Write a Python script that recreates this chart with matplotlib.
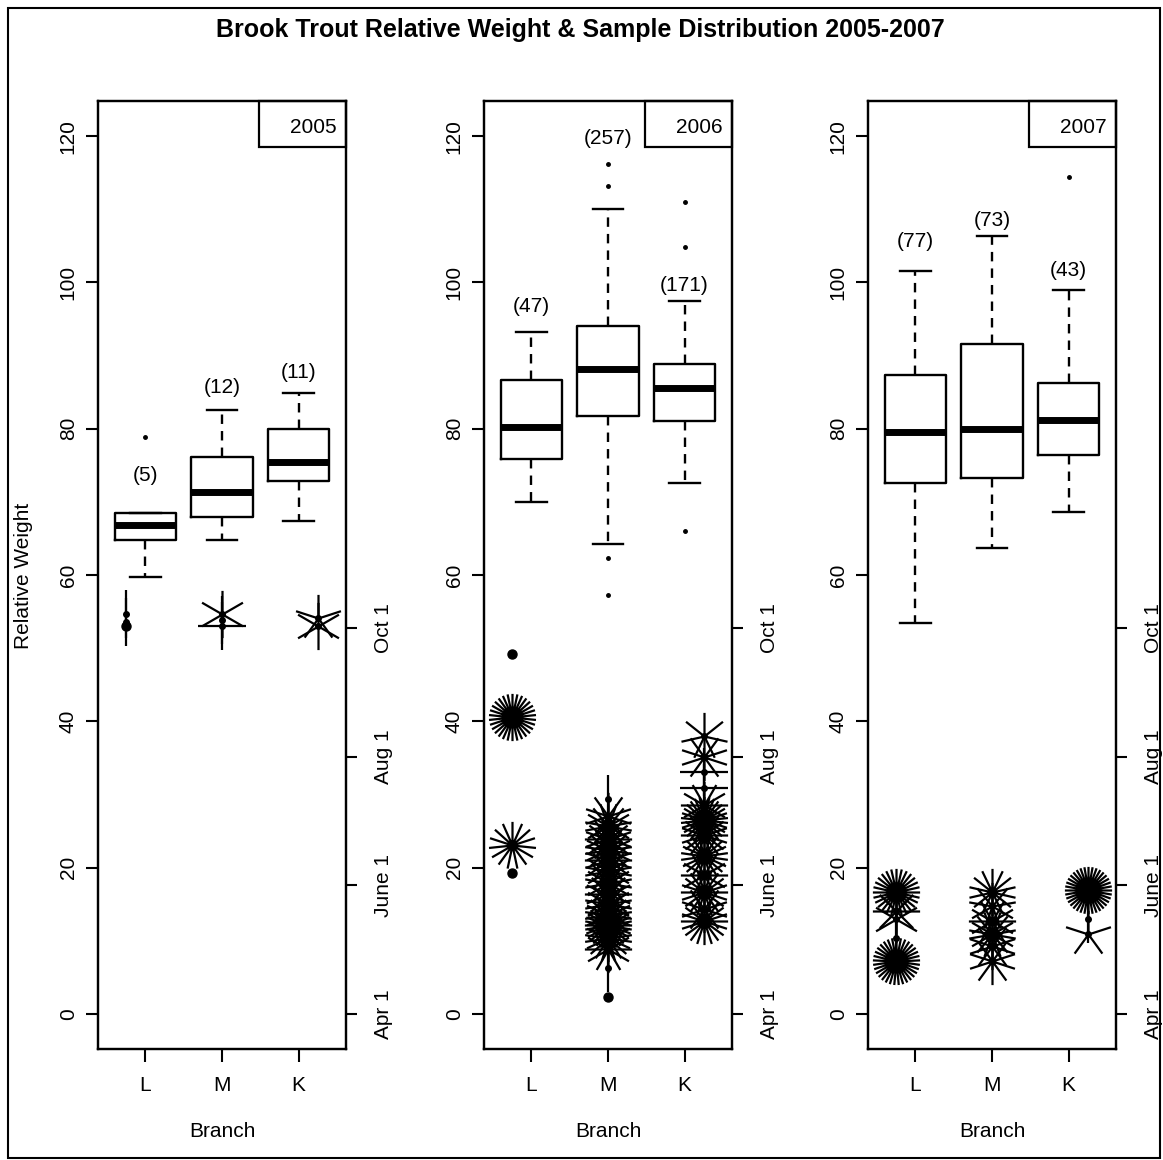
import numpy as np
import matplotlib.pyplot as plt
from matplotlib.path import Path
from matplotlib.patches import Rectangle

plt.rcParams['font.family'] = ['Liberation Sans', 'DejaVu Sans']

years = ['2005', '2006', '2007']
branches = ['L', 'M', 'K']
date_labels = ['Apr 1', 'June 1', 'Aug 1', 'Oct 1']
date_days = [0, 61, 122, 183]          # days after Apr 1

# box stats per branch: (whislo, q1, med, q3, whishi)
box_2005 = [(59.7, 64.8, 66.8, 68.5, 68.5),
            (64.8, 67.9, 71.4, 76.2, 82.6),
            (67.4, 72.9, 75.4, 80.0, 84.9)]
box_2006 = [(70.0, 75.9, 80.3, 86.7, 93.2),
            (64.2, 81.8, 88.2, 94.0, 110.0),
            (72.6, 81.1, 85.6, 88.8, 97.5)]
box_2007 = [(53.4, 72.6, 79.5, 87.4, 101.6),
            (63.7, 73.2, 79.9, 91.6, 106.3),
            (68.6, 76.4, 81.2, 86.3, 98.9)]
fliers_2005 = [[78.8], [], []]
fliers_2006 = [[], [57.3, 62.3, 113.2, 116.2], [66.0, 104.9, 111.0]]
fliers_2007 = [[], [], [114.4]]
counts_2005 = [5, 12, 11]
counts_2006 = [47, 257, 171]
counts_2007 = [77, 73, 43]
label_y_2005 = [73.6, 85.6, 87.7]
label_y_2006 = [96.7, 119.7, 99.6]
label_y_2007 = [105.6, 108.5, 101.6]

# sample dates: (days after Apr 1, number of fish) per branch
dates_2005 = [[(190, 2), (186, 2), (184, 1)],
              [(190, 6), (187, 2), (184, 4)],
              [(188, 5), (184, 6)]]
dates_2006 = [[(171, 1), (141, 30), (80, 15), (67, 1)],
              [(102, 2), (94, 10), (89, 18), (83, 20), (78, 22), (73, 20),
               (68, 18), (62, 18), (57, 16), (52, 18), (47, 22), (42, 36),
               (36, 22), (31, 12), (22, 2), (8, 1)],
              [(132, 7), (122, 10), (115, 4), (107, 4), (99, 12), (92, 30),
               (85, 20), (75, 22), (66, 12), (58, 20), (50, 10), (44, 20)]]
dates_2007 = [[(58, 28), (49, 8), (45, 6), (36, 2), (25, 33)],
              [(58, 14), (51, 9), (44, 12), (38, 18), (32, 10), (25, 10)],
              [(59, 36), (45, 2), (38, 5)]]

boxes = [box_2005, box_2006, box_2007]
fliers = [fliers_2005, fliers_2006, fliers_2007]
counts = [counts_2005, counts_2006, counts_2007]
label_ys = [label_y_2005, label_y_2006, label_y_2007]
dates = [dates_2005, dates_2006, dates_2007]

box_x = [1, 2, 3]
sun_x = [0.75, 2, 3.25]
ylim = (-4.8, 124.8)
f = 0.288   # plot units per day on the date axis
fs = 15


def petals(n):
    verts, codes = [], []
    for z in range(1, n + 1):
        a = 2 * np.pi * z / n
        verts += [(0, 0), (np.sin(a), np.cos(a))]
        codes += [Path.MOVETO, Path.LINETO]
    return Path(verts, codes)


W, H = 1163, 1160
fig = plt.figure(figsize=(W / 100, H / 100), dpi=100)
lefts = [98, 484, 868]

for i, yr in enumerate(years):
    ax = fig.add_axes([lefts[i] / W, 111 / H, 248 / W, 948 / H])
    stats = []
    for j in range(3):
        lo, q1, med, q3, hi = boxes[i][j]
        stats.append(dict(whislo=lo, q1=q1, med=med, q3=q3, whishi=hi, fliers=fliers[i][j]))
    ax.bxp(stats, positions=box_x, widths=0.8, capwidths=0.4,
           boxprops=dict(lw=1.7, color='k'),
           medianprops=dict(lw=5, color='k', solid_capstyle='butt'),
           whiskerprops=dict(lw=1.7, ls=(0, (4, 3)), color='k'),
           capprops=dict(lw=1.7, color='k'),
           flierprops=dict(marker='o', ms=2.5, mfc='k', mec='k'))
    for j in range(3):
        ax.text(box_x[j], label_ys[i][j], '(%d)' % counts[i][j], ha='center', va='center', fontsize=fs)

    ax.set_xlim(0.38, 3.62)
    ax.set_ylim(*ylim)
    ax.set_xticks(box_x)
    ax.set_xticklabels(branches)
    ax.set_yticks(range(0, 121, 20))
    ax.tick_params(axis='x', length=9.4, width=1.5, pad=10, labelsize=fs)
    ax.tick_params(axis='y', length=8.6, width=1.5, pad=6, labelsize=fs, labelrotation=90)
    for t in ax.get_yticklabels():
        t.set_va('center')
    for s in ax.spines.values():
        s.set_linewidth(1.6)
    ax.text(0.5, -0.0865, 'Branch', transform=ax.transAxes, ha='center', va='center', fontsize=fs)

    # year box, top right
    ax.add_patch(Rectangle((0.65, 0.951), 0.35, 0.049, transform=ax.transAxes,
                           fill=False, lw=1.6, ec='k', clip_on=False))
    ax.text(0.963, 0.972, yr, transform=ax.transAxes, ha='right', va='center', fontsize=fs)

    # sample date sunflowers on the right axis
    ax2 = ax.twinx()
    ax2.set_ylim(ylim[0] / f, ylim[1] / f)
    ax2.set_yticks(date_days)
    ax2.set_yticklabels(date_labels)
    ax2.tick_params(axis='y', length=8, width=1.5, pad=12, labelsize=fs, labelrotation=90)
    for t in ax2.get_yticklabels():
        t.set_va('center')
    for s in ax2.spines.values():
        s.set_linewidth(1.6)
    for j in range(3):
        for d, n in dates[i][j]:
            if n == 1:
                ax2.plot([sun_x[j]], [d], 'o', ms=6.5, color='k')
            else:
                ax2.plot([sun_x[j]], [d], ls='none', marker=petals(n), ms=34, mew=1.6, color='k')
                ax2.plot([sun_x[j]], [d], 'o', ms=4, color='k')

fig.text(24 / W, 0.5034, 'Relative Weight', rotation=90, ha='center', va='center', fontsize=fs)
fig.text(0.499, 1 - 30 / H, 'Brook Trout Relative Weight & Sample Distribution 2005-2007',
         ha='center', va='center', fontsize=18, weight='bold')
fig.add_artist(Rectangle((8 / W, 2 / H), 1152 / W, 1150 / H, transform=fig.transFigure,
                         fill=False, lw=1.5, ec='k'))

fig.savefig('out.png', dpi=100)
